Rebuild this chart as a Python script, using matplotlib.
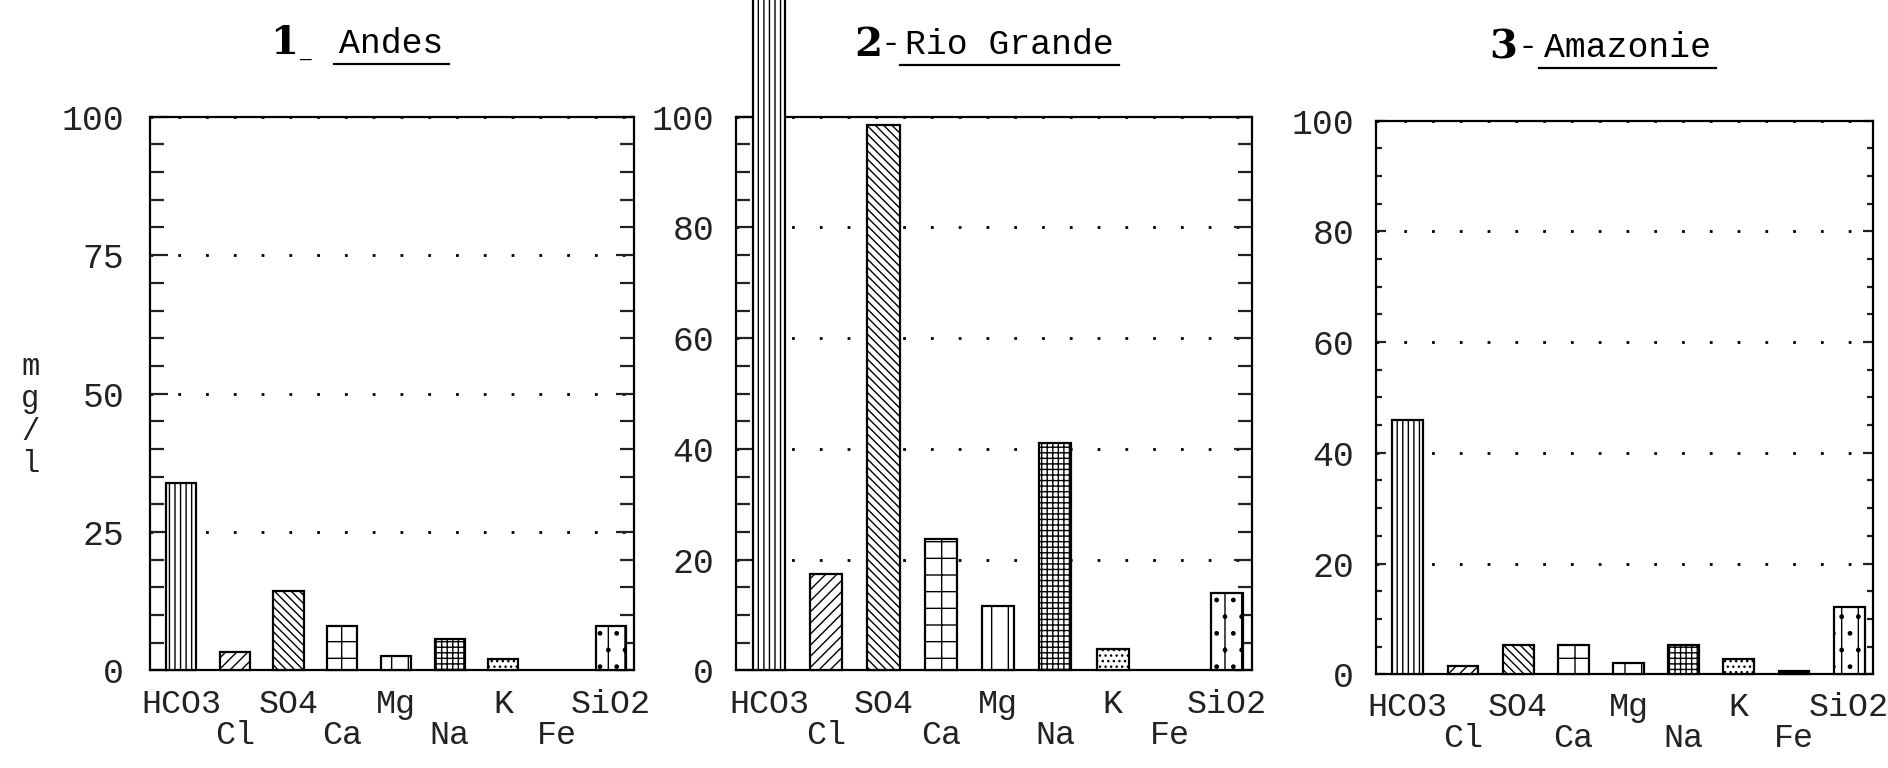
import numpy as np
import matplotlib
import matplotlib.pyplot as plt
from matplotlib.lines import Line2D
from matplotlib.ticker import MultipleLocator

matplotlib.rcParams['hatch.linewidth'] = 1.0
matplotlib.rcParams['font.family'] = ['Liberation Mono', 'DejaVu Sans Mono']

IONS = ['HCO3', 'Cl', 'SO4', 'Ca', 'Mg', 'Na', 'K', 'Fe', 'SiO2']

# mg/l (Rio Grande HCO3 runs off the top of the plot)
ANDES = [33.8, 3.3, 14.4, 8.0, 2.7, 5.7, 2.0, 0.0, 8.1]
RIO_GRANDE = [130.0, 17.5, 98.5, 23.8, 11.7, 41.0, 3.8, 0.0, 14.0]
AMAZONIE = [46.0, 1.5, 5.3, 5.3, 2.1, 5.3, 2.8, 0.6, 12.2]

HATCHES = ['|||', '///', '\\\\\\\\', '+', '|', '+++', '...', '', '|.']
FILLS = ['white'] * 7 + ['black', 'white']

PANELS = [
    # number, prefix, name, data, ytick step, axes rect, tick length
    ('1', '_', 'Andes', ANDES, 25, [0.0797, 0.127, 0.256, 0.721], 10),
    ('2', '-', 'Rio Grande', RIO_GRANDE, 20, [0.390, 0.127, 0.273, 0.721], 10),
    ('3', '-', 'Amazonie', AMAZONIE, 20, [0.729, 0.122, 0.263, 0.721], 4),
]
# name left x, y, prefix gap, number gap, prefix size, prefix y
TITLE_POS = [(0.1798, 0.944, 0.0152, 0.0218, 14, 0.930),
             (0.4796, 0.942, 0.0026, 0.012, 24, 0.942),
             (0.8176, 0.938, 0.003, 0.014, 24, 0.938)]
YPAD = [19, 16, 16]


def draw_panel(fig, rect, data, step, ticklen, pad):
    ax = fig.add_axes(rect)
    x = np.arange(len(IONS))
    for xi, val, h, fc in zip(x, data, HATCHES, FILLS):
        if val <= 0:
            continue
        ax.bar(xi, val, width=0.56, facecolor=fc, edgecolor='black',
               hatch=h, linewidth=1.6, zorder=3, clip_on=False)
    ax.set_xlim(-0.57, 8.43)
    ax.set_ylim(0, 100)
    ax.yaxis.set_major_locator(MultipleLocator(step))
    ax.yaxis.set_minor_locator(MultipleLocator(5))
    ax.tick_params(axis='y', which='both', direction='in', left=True,
                   right=True, width=1.6, labelsize=25, pad=pad,
                   colors='#222222')
    ax.tick_params(axis='y', which='major', length=ticklen + 3)
    ax.tick_params(axis='y', which='minor', length=ticklen)
    ax.set_xticks(x)
    ax.set_xticklabels([lbl if i % 2 == 0 else '\n' + lbl
                        for i, lbl in enumerate(IONS)], linespacing=1.0)
    ax.tick_params(axis='x', length=0, labelsize=24, pad=13,
                   colors='#222222')
    ax.grid(axis='y', which='major', linestyle=(0, (1, 9)),
            linewidth=2, color='black')
    ax.set_axisbelow(True)
    for sp in ax.spines.values():
        sp.set_linewidth(1.6)
    return ax


def main():
    fig = plt.figure(figsize=(18.88, 7.68), dpi=100)
    names = []
    for (num, pre, name, data, step, rect, tl), (tx, ty, gp, gn, ps, py), pad in zip(
            PANELS, TITLE_POS, YPAD):
        draw_panel(fig, rect, data, step, tl, pad)
        fig.text(tx - gn, ty, num, ha='right', va='center',
                 fontsize=29, fontweight='bold', family='DejaVu Serif')
        fig.text(tx - gp, py, pre, ha='right', va='center', fontsize=ps)
        names.append(fig.text(tx, ty, name, ha='left', va='center',
                              fontsize=25))

    fig.text(0.016, 0.459, 'm\ng\n/\nl', ha='center', va='center',
             fontsize=22, linespacing=1.1, color='#222222')

    # underline the names of the regions
    fig.canvas.draw()
    inv = fig.transFigure.inverted()
    for t in names:
        bb = t.get_window_extent()
        (x0, y0), (x1, _) = inv.transform([(bb.x0 - 5, bb.y0 - 4),
                                          (bb.x1 + 5, bb.y1)])
        fig.add_artist(Line2D([x0, x1], [y0, y0], color='black',
                              linewidth=1.6))

    fig.savefig('out.png', dpi=100, facecolor='white')


if __name__ == '__main__':
    main()
